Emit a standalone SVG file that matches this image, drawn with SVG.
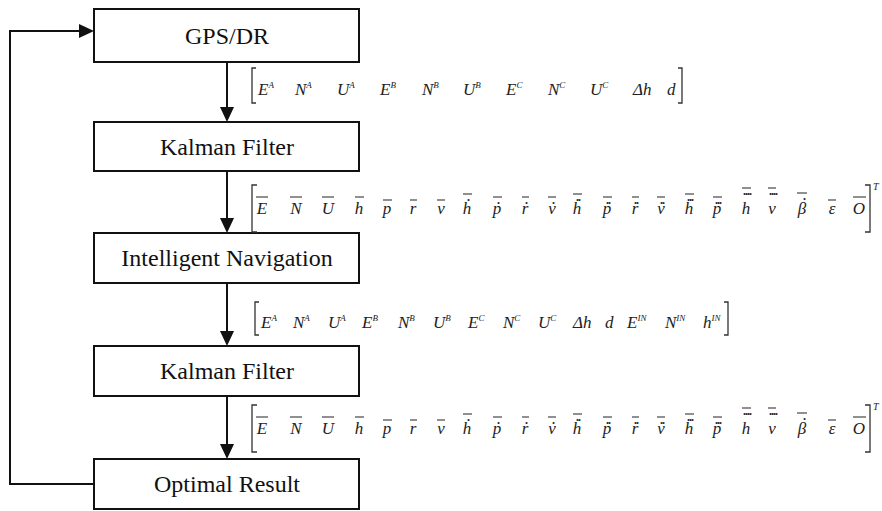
<svg xmlns="http://www.w3.org/2000/svg" width="882" height="511" viewBox="0 0 882 511">
<style>
.box{fill:#fff;stroke:#111;stroke-width:2}
.lbl{font-family:"Liberation Serif","Times New Roman",serif;font-size:24px;fill:#111;text-anchor:middle}
.wire{fill:none;stroke:#111;stroke-width:2}
.m{font-family:"Liberation Serif","Times New Roman",serif;font-style:italic;font-size:17px;fill:#222}
.mc{font-family:"Liberation Serif","Times New Roman",serif;font-style:italic;font-size:17px;fill:#222;text-anchor:middle}
.sup{font-size:9px}
.ob{fill:none;stroke:#222;stroke-width:1.1}
.dt{font-family:"Liberation Serif",serif;font-size:12px;font-weight:bold;fill:#222;text-anchor:middle;letter-spacing:-1px}
.br{fill:none;stroke:#333;stroke-width:1.3}
.t{font-family:"Liberation Serif",serif;font-style:italic;font-size:10px;fill:#222}
</style>
<defs>
<g id="vec">
<path class="br" d="M257,-29 H252 V18 H257 M865,-29 H870 V18 H865"/>
<text class="t" x="873" y="-24">T</text>
<text class="mc" x="262" y="0">E</text>
<text class="mc" x="296" y="0">N</text>
<text class="mc" x="328" y="0">U</text>
<text class="mc" x="359" y="0">h</text>
<text class="mc" x="387" y="0">p</text>
<text class="mc" x="413" y="0">r</text>
<text class="mc" x="441" y="0">v</text>
<text class="mc" x="467" y="0">h</text>
<text class="mc" x="497" y="0">p</text>
<text class="mc" x="525" y="0">r</text>
<text class="mc" x="552" y="0">v</text>
<text class="mc" x="577" y="0">h</text>
<text class="mc" x="607" y="0">p</text>
<text class="mc" x="635" y="0">r</text>
<text class="mc" x="661" y="0">v</text>
<text class="mc" x="689" y="0">h</text>
<text class="mc" x="717" y="0">p</text>
<text class="mc" x="746" y="0">h</text>
<text class="mc" x="772" y="0">v</text>
<text class="mc" x="802" y="0">β</text>
<text class="mc" x="832" y="0">ε</text>
<text class="mc" x="859" y="0">O</text>
<text class="dt" x="468" y="-13">.</text>
<text class="dt" x="498" y="-10">.</text>
<text class="dt" x="526" y="-10">.</text>
<text class="dt" x="553" y="-10">.</text>
<text class="dt" x="578" y="-13">..</text>
<text class="dt" x="608" y="-10">..</text>
<text class="dt" x="636" y="-10">..</text>
<text class="dt" x="662" y="-10">..</text>
<text class="dt" x="690" y="-13">...</text>
<text class="dt" x="718" y="-10">...</text>
<text class="dt" x="747" y="-19">....</text>
<text class="dt" x="773" y="-19">....</text>
<text class="dt" x="804" y="-14">.</text>
<path class="ob" d="M256,-17h12 M290,-17h12 M322,-17h12 M355,-17h9 M383,-14h9 M410,-14h7 M437,-14h8 M463,-20h9 M493,-17h9 M522,-17h7 M548,-17h8 M573,-20h9 M603,-17h9 M632,-17h7 M657,-17h8 M685,-20h9 M713,-17h9 M742,-26h9 M768,-26h8 M797,-21h10 M828,-14h8 M853,-17h13"/>
</g>
</defs>

<g id="connectors">
<line class="wire" x1="227" y1="62" x2="227" y2="107"/>
<path d="M220,107 L234,107 L227,122 Z" fill="#111"/>
<line class="wire" x1="227" y1="171" x2="227" y2="218"/>
<path d="M220,218 L234,218 L227,233 Z" fill="#111"/>
<line class="wire" x1="227" y1="283" x2="227" y2="331"/>
<path d="M220,331 L234,331 L227,346 Z" fill="#111"/>
<line class="wire" x1="227" y1="396" x2="227" y2="444"/>
<path d="M220,444 L234,444 L227,459 Z" fill="#111"/>
<polyline class="wire" points="94,484 10,484 10,31 79,31"/>
<path d="M79,24 L79,38 L94,31 Z" fill="#111"/>
</g>

<g id="gps">
<rect class="box" x="94" y="9" width="265" height="53"/>
<text class="lbl" x="227" y="44">GPS/DR</text>
</g>
<g id="kalman1">
<rect class="box" x="94" y="122" width="265" height="49"/>
<text class="lbl" x="227" y="155">Kalman Filter</text>
</g>
<g id="intnav">
<rect class="box" x="94" y="233" width="265" height="50"/>
<text class="lbl" x="227" y="266">Intelligent Navigation</text>
</g>
<g id="kalman2">
<rect class="box" x="94" y="346" width="265" height="50"/>
<text class="lbl" x="227" y="379">Kalman Filter</text>
</g>
<g id="optimal">
<rect class="box" x="94" y="459" width="265" height="50"/>
<text class="lbl" x="227" y="492">Optimal Result</text>
</g>

<g id="label1">
<path class="br" d="M256,68 H252 V103 H256 M678,68 H682 V103 H678"/>
<text class="m" x="258" y="95">E<tspan class="sup" dy="-7">A</tspan></text>
<text class="m" x="295" y="95">N<tspan class="sup" dy="-7">A</tspan></text>
<text class="m" x="337" y="95">U<tspan class="sup" dy="-7">A</tspan></text>
<text class="m" x="380" y="95">E<tspan class="sup" dy="-7">B</tspan></text>
<text class="m" x="422" y="95">N<tspan class="sup" dy="-7">B</tspan></text>
<text class="m" x="463" y="95">U<tspan class="sup" dy="-7">B</tspan></text>
<text class="m" x="506" y="95">E<tspan class="sup" dy="-7">C</tspan></text>
<text class="m" x="548" y="95">N<tspan class="sup" dy="-7">C</tspan></text>
<text class="m" x="590" y="95">U<tspan class="sup" dy="-7">C</tspan></text>
<text class="m" x="633" y="95">Δh</text>
<text class="m" x="667" y="95">d</text>
</g>

<g id="label2">
<use href="#vec" transform="translate(0,214)"/>
</g>

<g id="label3">
<path class="br" d="M259,302 H255 V335 H259 M724,302 H728 V335 H724"/>
<text class="m" x="261" y="328">E<tspan class="sup" dy="-7">A</tspan></text>
<text class="m" x="293" y="328">N<tspan class="sup" dy="-7">A</tspan></text>
<text class="m" x="328" y="328">U<tspan class="sup" dy="-7">A</tspan></text>
<text class="m" x="362" y="328">E<tspan class="sup" dy="-7">B</tspan></text>
<text class="m" x="398" y="328">N<tspan class="sup" dy="-7">B</tspan></text>
<text class="m" x="433" y="328">U<tspan class="sup" dy="-7">B</tspan></text>
<text class="m" x="468" y="328">E<tspan class="sup" dy="-7">C</tspan></text>
<text class="m" x="503" y="328">N<tspan class="sup" dy="-7">C</tspan></text>
<text class="m" x="538" y="328">U<tspan class="sup" dy="-7">C</tspan></text>
<text class="m" x="573" y="328">Δh</text>
<text class="m" x="605" y="328">d</text>
<text class="m" x="627" y="328">E<tspan class="sup" dy="-7">IN</tspan></text>
<text class="m" x="665" y="328">N<tspan class="sup" dy="-7">IN</tspan></text>
<text class="m" x="703" y="328">h<tspan class="sup" dy="-7">IN</tspan></text>
</g>

<g id="label4">
<use href="#vec" transform="translate(0,434)"/>
</g>
</svg>
